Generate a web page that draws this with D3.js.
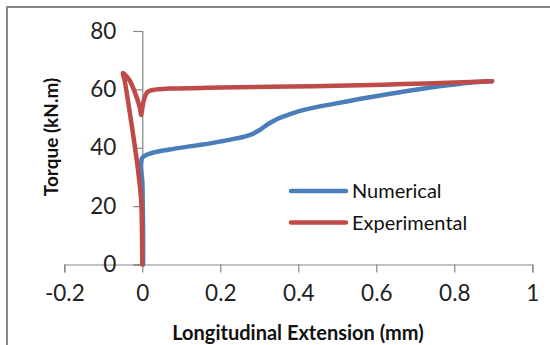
<!DOCTYPE html>
<html>
<head>
<meta charset="utf-8">
<script src="https://cdn.jsdelivr.net/npm/d3@7"></script>
<style>
  html, body { margin: 0; padding: 0; background: #fff; }
  svg { display: block; }
</style>
</head>
<body>
<svg id="chart" width="550" height="345"></svg>
<script>
// Torque vs longitudinal extension (x in mm, y in kN.m)
const numericalX = [0.002, 0.002, 0.001, 0.000, -0.004, 0.000, 0.010, 0.027, 0.070, 0.113, 0.155, 0.198, 0.241, 0.275, 0.301, 0.326, 0.350, 0.372, 0.412, 0.497, 0.583, 0.668, 0.754, 0.839, 0.897];
const numericalY = [0, 12, 22, 28.5, 34, 36.6, 37.5, 38.3, 39.4, 40.3, 41.1, 42.1, 43.2, 44.3, 46.1, 48.4, 50.1, 51.2, 52.9, 55.2, 57.3, 59.2, 60.9, 62.3, 62.8];

const experimentalX = [0.000, -0.001, -0.003, -0.011, -0.024, -0.037, -0.046, -0.050, -0.044, -0.033, -0.015, -0.006, -0.003, 0.000, 0.004, 0.014, 0.036, 0.070, 0.200, 0.326, 0.497, 0.668, 0.839, 0.897];
const experimentalY = [0, 13, 22.1, 32.4, 44.9, 56.3, 63.5, 65.6, 65.0, 63.2, 57.5, 53.5, 51.2, 53.5, 56.3, 59.2, 60.0, 60.3, 60.6, 60.9, 61.2, 61.8, 62.5, 62.8];

const xTicks = [-0.2, 0, 0.2, 0.4, 0.6, 0.8, 1];
const yTicks = [0, 20, 40, 60, 80];

const seriesNames = ["Numerical", "Experimental"];
const seriesColors = ["#4a7ebb", "#be4b48"];

const svg = d3.select("#chart");
const font = "Lato, 'Open Sans', sans-serif";

// outer chart frame
svg.append("rect")
  .attr("x", 7).attr("y", 7)
  .attr("width", 620).attr("height", 420)
  .attr("fill", "#fff")
  .attr("stroke", "#888").attr("stroke-width", 2);

const x = d3.scaleLinear().domain([-0.2, 1]).range([64.3, 532.3]);
const y = d3.scaleLinear().domain([0, 80]).range([264.5, 31]);

const axisColor = "#868686";

// x axis along y = 0
const gx = svg.append("g")
  .attr("transform", `translate(0,${y(0)})`)
  .call(d3.axisBottom(x).tickValues(xTicks).tickSize(8).tickPadding(13)
    .tickFormat(d => d === 0 ? "0" : d === 1 ? "1" : d3.format(".1f")(d).replace("−", "-")));

// y axis at x = 0
const gy = svg.append("g")
  .attr("transform", `translate(${x(0)},0)`)
  .call(d3.axisLeft(y).tickValues(yTicks).tickSize(9).tickPadding(17).tickFormat(d3.format("d")));

[gx, gy].forEach(g => {
  g.select(".domain").attr("stroke", axisColor).attr("stroke-width", 1.2);
  g.selectAll(".tick line").attr("stroke", axisColor).attr("stroke-width", 1.2);
  g.selectAll(".tick text")
    .attr("fill", "#222")
    .style("font-family", font)
    .style("font-size", "22.5px");
});
gx.selectAll(".tick text").attr("dy", "0.71em");

// axis titles
svg.append("text")
  .attr("x", 298).attr("y", 340)
  .attr("text-anchor", "middle")
  .style("font-family", font).style("font-weight", "bold").style("font-size", "20px")
  .attr("fill", "#111")
  .text("Longitudinal Extension (mm)");

svg.append("text")
  .attr("transform", "translate(58,137) rotate(-90)")
  .attr("text-anchor", "middle")
  .style("font-family", font).style("font-weight", "bold").style("font-size", "19px")
  .attr("fill", "#111")
  .text("Torque (kN.m)");

// series lines
const line = d3.line().x(d => x(d[0])).y(d => y(d[1])).curve(d3.curveCatmullRom.alpha(0.5));

const series = [
  d3.zip(numericalX, numericalY),
  d3.zip(experimentalX, experimentalY)
];

series.forEach((pts, i) => {
  svg.append("path")
    .datum(pts)
    .attr("d", line)
    .attr("fill", "none")
    .attr("stroke", seriesColors[i])
    .attr("stroke-width", 4.5)
    .attr("stroke-linejoin", "round")
    .attr("stroke-linecap", "round");
});

// legend
const legend = svg.append("g").attr("transform", "translate(291,191)");
seriesNames.forEach((name, i) => {
  const row = legend.append("g").attr("transform", `translate(0,${i * 31.5})`);
  row.append("line")
    .attr("x1", 0).attr("x2", 55).attr("y1", 0).attr("y2", 0)
    .attr("stroke", seriesColors[i]).attr("stroke-width", 4.5)
    .attr("stroke-linecap", "round");
  row.append("text")
    .attr("x", 61).attr("y", 0).attr("dy", "0.36em")
    .style("font-family", font).style("font-size", "20px")
    .attr("fill", "#111")
    .text(name);
});
</script>
</body>
</html>
